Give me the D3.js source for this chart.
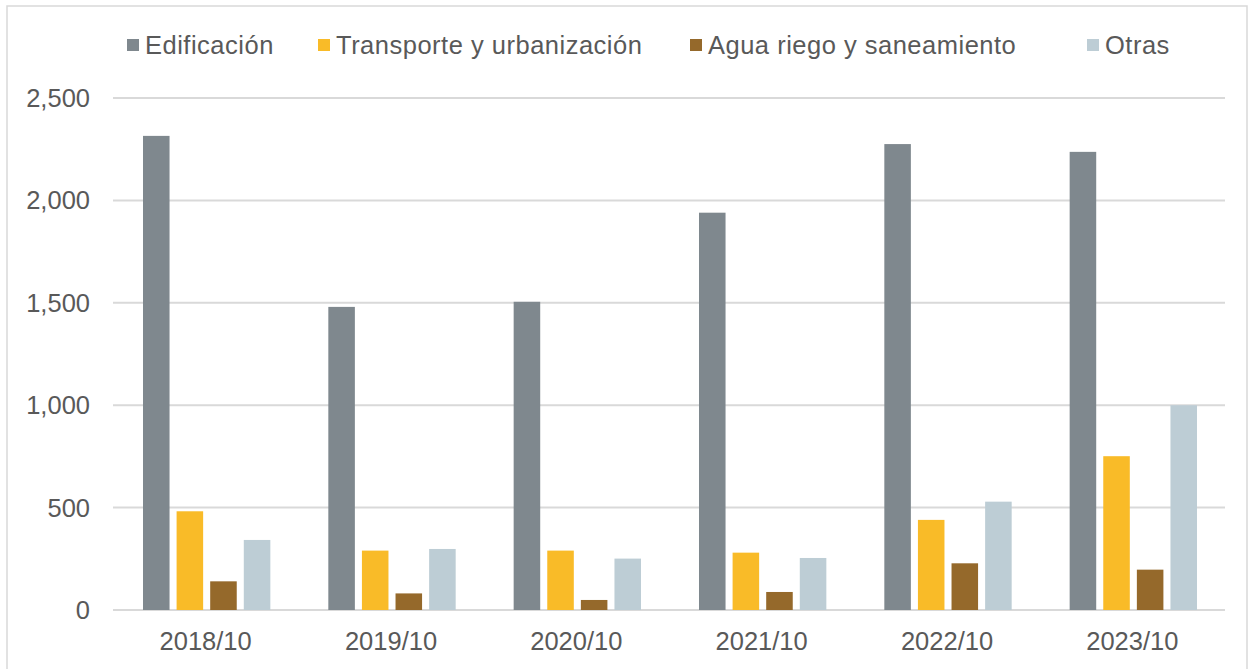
<!DOCTYPE html>
<html>
<head>
<meta charset="utf-8">
<script src="https://cdn.jsdelivr.net/npm/d3@7"></script>
<style>
  html, body { margin: 0; padding: 0; background: #fff; }
  svg { display: block; }
  text { font-family: "Liberation Sans", Arial, sans-serif; fill: #595959; }
</style>
</head>
<body>
<svg id="chart" width="1253" height="669"></svg>
<script>
const categories = ["2018/10", "2019/10", "2020/10", "2021/10", "2022/10", "2023/10"];
const seriesNames = ["Edificación", "Transporte y urbanización", "Agua riego y saneamiento", "Otras"];
const seriesColors = ["#7f888e", "#f9bb28", "#95692b", "#bdcdd5"];
const edificacion = [2315, 1480, 1505, 1940, 2275, 2237];
const transporte = [482, 290, 290, 280, 440, 751];
const agua = [140, 81, 49, 88, 228, 197];
const otras = [342, 298, 251, 254, 529, 1000];
const yTicks = [0, 500, 1000, 1500, 2000, 2500];

const seriesValues = [edificacion, transporte, agua, otras];
const FS = 25.5;

const svg = d3.select("#chart");

// outer border
svg.append("rect").attr("x", 7).attr("y", 6).attr("width", 1240).attr("height", 680)
  .attr("fill", "none").attr("stroke", "#d9d9d9").attr("stroke-width", 1.5);

const plotL = 113, plotR = 1225, plotT = 98, plotB = 610;

const x = d3.scaleBand().domain(categories).range([plotL, plotR]).paddingInner(0).paddingOuter(0);
const y = d3.scaleLinear().domain([0, 2500]).range([plotB, plotT]);

// gridlines
svg.append("g").selectAll("line").data(yTicks).join("line")
  .attr("x1", plotL).attr("x2", plotR)
  .attr("y1", d => y(d)).attr("y2", d => y(d))
  .attr("stroke", "#d9d9d9").attr("stroke-width", 2);

// y-axis labels
const fmt = d3.format(",");
svg.append("g").selectAll("text").data(yTicks).join("text")
  .attr("x", 90).attr("y", d => y(d))
  .attr("dy", "0.35em")
  .attr("text-anchor", "end")
  .attr("font-size", FS)
  .text(d => fmt(d));

// bars
const groupW = 134.4;
const inner = d3.scaleBand().domain(d3.range(seriesNames.length))
  .range([-groupW / 2, groupW / 2]).paddingInner(0.21).paddingOuter(0.105);

const data = [];
categories.forEach((c, i) => {
  seriesValues.forEach((vals, s) => data.push({ c, s, v: vals[i] }));
});

svg.append("g").selectAll("rect").data(data).join("rect")
  .attr("x", d => x(d.c) + x.bandwidth() / 2 + 1 + inner(d.s))
  .attr("width", inner.bandwidth())
  .attr("y", d => y(d.v))
  .attr("height", d => y(0) - y(d.v))
  .attr("fill", d => seriesColors[d.s]);

// x-axis labels
svg.append("g").selectAll("text").data(categories).join("text")
  .attr("x", d => x(d) + x.bandwidth() / 2)
  .attr("y", 641)
  .attr("dy", "0.35em")
  .attr("text-anchor", "middle")
  .attr("font-size", FS)
  .text(d => d);

// legend
const legendX = [127, 318, 690, 1087];
const lg = svg.append("g").selectAll("g").data(seriesNames).join("g")
  .attr("transform", (d, i) => `translate(${legendX[i]},45)`);
lg.append("rect").attr("x", 0).attr("y", -6).attr("width", 12).attr("height", 12)
  .attr("fill", (d, i) => seriesColors[i]);
lg.append("text").attr("x", 18).attr("y", 0).attr("dy", "0.35em")
  .attr("font-size", FS).attr("letter-spacing", 0.5).text(d => d);
</script>
</body>
</html>
